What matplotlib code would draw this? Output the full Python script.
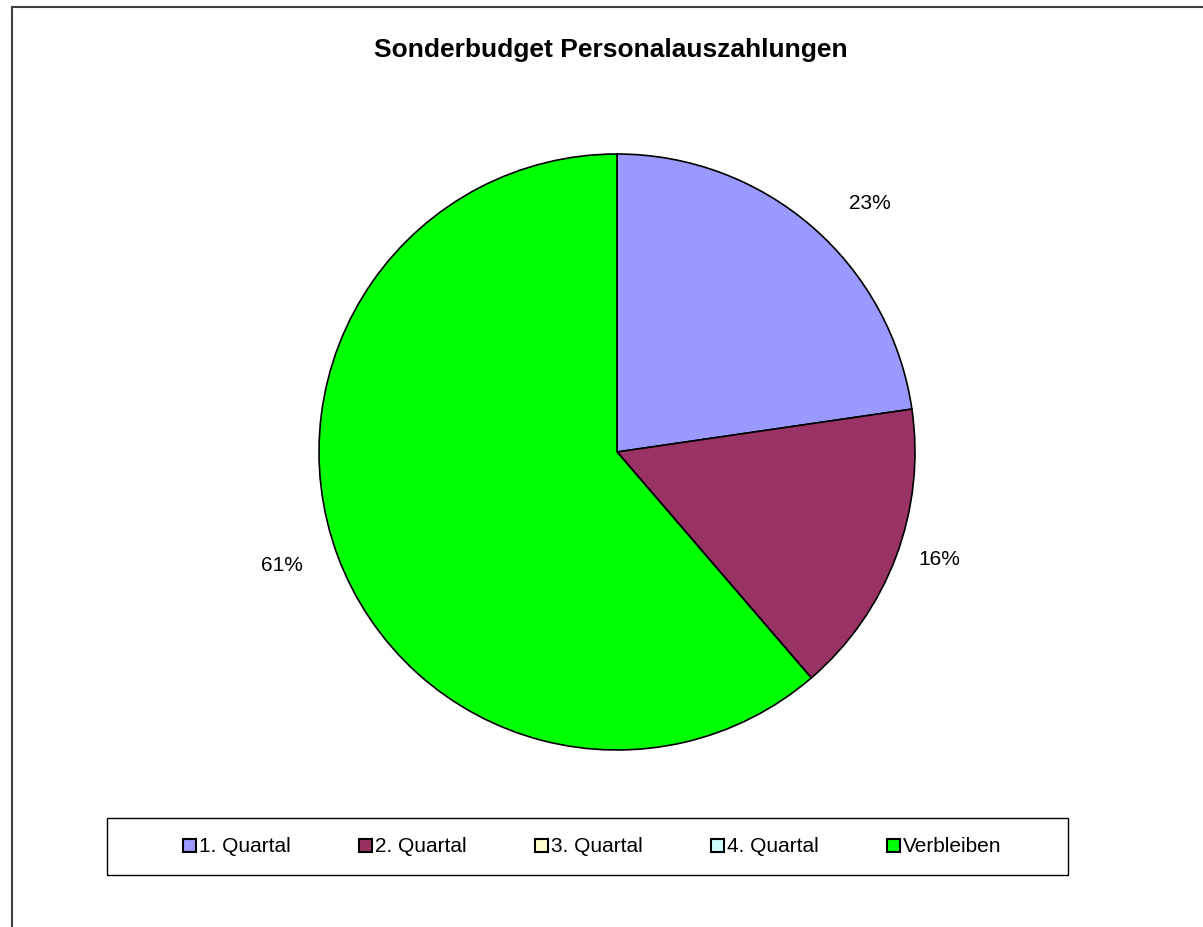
import matplotlib
matplotlib.use("Agg")
import matplotlib.pyplot as plt
from matplotlib.patches import Patch, Rectangle
from matplotlib.lines import Line2D

title = "Sonderbudget Personalauszahlungen"
categories = ["1. Quartal", "2. Quartal", "3. Quartal", "4. Quartal", "Verbleiben"]
values = [22.7, 16.0, 0.0, 0.0, 61.3]
colors = ["#9999FF", "#993366", "#FFFFCC", "#CCFFFF", "#00FF00"]
# pixel nudges for the percentage labels (Excel-like placement)
label_nudges = [(25, -15), (-4, 15), (0, 0), (0, 0), (-8, 8)]

plt.rcParams['font.family'] = ['Liberation Sans', 'DejaVu Sans']

W, H = 1203, 927
fig = plt.figure(figsize=(W / 100, H / 100), dpi=100)
fig.patch.set_facecolor("white")

# outer chart border (only top and left visible)
fig.add_artist(Line2D([12 / W, 12 / W], [0, 1 - 7 / H], transform=fig.transFigure, color="#404040", lw=1.5))
fig.add_artist(Line2D([12 / W, 1], [1 - 7 / H, 1 - 7 / H], transform=fig.transFigure, color="#404040", lw=1.5))

cx, cy, r = 617, 452, 298
ax = fig.add_axes([(cx - r) / W, (H - cy - r) / H, 2 * r / W, 2 * r / H])


def fmt(p):
    return "%.0f%%" % p if p > 0.5 else ""


wedges, texts, autotexts = ax.pie(
    values, colors=colors, startangle=90, counterclock=False,
    wedgeprops=dict(edgecolor="black", linewidth=1.2),
    autopct=fmt, pctdistance=1.17, radius=1.0,
)
for t, (dx, dy) in zip(autotexts, label_nudges):
    t.set_fontsize(15)
    t.set_color("black")
    x, y = t.get_position()
    t.set_position((x + dx / r, y + dy / r))
ax.set_xlim(-1, 1)
ax.set_ylim(-1, 1)
ax.set_aspect("equal")
ax.axis("off")

fig.text(611 / W, 1 - 57 / H, title, ha="center", va="baseline", fontsize=19, fontweight="bold")

# legend box
fig.add_artist(Rectangle((107 / W, 1 - 875 / H), 961 / W, 57 / H, transform=fig.transFigure,
                         facecolor="none", edgecolor="black", lw=1.0))
handles = [Patch(facecolor=c, edgecolor="black", linewidth=1.5) for c in colors]
fig.legend(handles, categories, ncol=5, loc="center left", frameon=False,
           bbox_to_anchor=(183 / W, 1 - 847 / H), bbox_transform=fig.transFigure,
           fontsize=15, handlelength=0.6, handleheight=0.6, handletextpad=0.15, borderpad=0,
           borderaxespad=0, columnspacing=3.3)

fig.savefig("out.png", dpi=100, facecolor="white")
